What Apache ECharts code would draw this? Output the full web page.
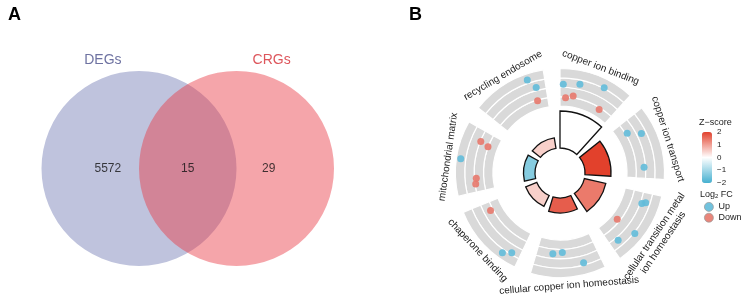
<!DOCTYPE html>
<html>
<head>
<meta charset="utf-8">
<script src="https://cdn.jsdelivr.net/npm/echarts@6/dist/echarts.min.js"></script>
<style>
html, body { margin: 0; padding: 0; background: #fff; }
#main { width: 747px; height: 300px; }
</style>
</head>
<body>
<div id="main"></div>
<script>
// panel A: Venn
const setNames = ["DEGs", "CRGs"];
const setTextColors = ["#4a4f8a", "#d42a32"];
const vennCounts = [5572, 15, 29];

// panel B: GO terms, clockwise from 12 o'clock
const terms = ["copper ion binding", "copper ion transport", "cellular transition metal\nion homeostasis",
  "cellular copper ion homeostasis", "chaperone binding", "mitochondrial matrix", "recycling endosome"];
const termScore = [37, 26, 22, 15, 12, 11.5, 10.5];
const termZ = [0, 2, 1.4, 1.7, 0.5, -1.3, 0.5];

// genes (term index, place inside term 0..1, log2 FC)
const upTerm = [0, 0, 0, 1, 1, 1, 2, 2, 2, 2, 3, 3, 3, 4, 4, 5, 6, 6];
const upPos  = [0.05, 0.30, 0.65, 0.19, 0.30, 0.82, 0.15, 0.18, 0.62, 0.86, 0.26, 0.57, 0.73, 0.13, 0.24, 0.50, 0.76, 0.85];
const upLfc  = [0.33, 0.55, 1.09, -0.82, 0.51, -0.16, 0.53, 0.17, 1.12, 0.33, 0.74, -0.65, -0.51, 0.79, 1.35, 1.55, 1.37, 0.31];
const downTerm = [0, 0, 0, 2, 4, 5, 5, 5, 5, 6];
const downPos  = [0.10, 0.23, 0.75, 0.62, 0.85, 0.13, 0.22, 0.78, 0.82, 0.81];
const downLfc  = [-1.09, -0.81, -1.18, -1.29, -0.72, -0.08, -0.20, -0.97, -0.05, -1.09];

const zTicks = [2, 1, 0, -1, -2];

const chart = echarts.init(document.getElementById("main"));
const font = "Liberation Sans, Arial, sans-serif";
const cx = 560, cy = 173;
const step = 360 / terms.length;
const fill = 0.82; // part of a term's sector that is drawn
const ringIn = 67, ringOut = 104.5;

function geneData(tIdx, pos, lfc) {
  return tIdx.map((t, i) => [lfc[i], t * step + pos[i] * step * fill]);
}

const hidden = {
  axisLine: { show: false }, axisTick: { show: false },
  axisLabel: { show: false }, splitLine: { show: false }
};

let option = {
  animation: false,
  textStyle: { fontFamily: font },
  grid: { left: 41.5, top: 22, width: 292.5, height: 278, outerBoundsMode: "none", containLabel: false },
  xAxis: { type: "value", min: -1.5, max: 1.5, show: false },
  yAxis: { type: "value", min: -1.349, max: 1.5026, show: false },
  polar: [
    { center: [cx, cy], radius: [25, 62] },
    { center: [cx, cy], radius: [ringIn, ringOut] },
    { center: [cx, cy], radius: [ringIn, ringOut] }
  ],
  angleAxis: [
    Object.assign({ polarIndex: 0, type: "category", data: terms, startAngle: 90 + step * (1 - fill) / 2, clockwise: true }, hidden),
    Object.assign({ polarIndex: 1, type: "category", data: terms, startAngle: 90 + step * (1 - fill) / 2, clockwise: true }, hidden),
    Object.assign({ polarIndex: 2, type: "value", min: 0, max: 360, startAngle: 90, clockwise: true }, hidden)
  ],
  radiusAxis: [
    Object.assign({ polarIndex: 0, type: "value", min: 0, max: 37 }, hidden),
    Object.assign({ polarIndex: 1, type: "value", min: 0, max: 4 }, hidden),
    Object.assign({ polarIndex: 2, type: "value", min: -2, max: 2 }, hidden)
  ],
  visualMap: {
    type: "continuous",
    seriesIndex: 0,
    dimension: 2,
    min: -2, max: 2,
    left: 702, top: 132,
    itemWidth: 10, itemHeight: 51,
    padding: 0,
    text: null,
    showLabel: false,
    calculable: false,
    hoverLink: false,
    inRange: { color: ["#45b0d0", "#ffffff", "#e2412c"] }
  },
  legend: {
    data: ["Up", "Down"],
    orient: "vertical",
    left: 704, top: 202,
    padding: 0,
    itemWidth: 9, itemHeight: 9, itemGap: 1,
    icon: "circle",
    itemStyle: { borderColor: "#999", borderWidth: 0.8 },
    textStyle: { fontSize: 9, color: "#222", fontFamily: font }
  },
  series: [
    {
      type: "bar",
      coordinateSystem: "polar",
      polarIndex: 0,
      barWidth: (fill * 100) + "%",
      data: terms.map((t, i) => [i, termScore[i], termZ[i]]),
      encode: { angle: 0, radius: 1 },
      itemStyle: { borderColor: "#111", borderWidth: 1.3 }
    },
    ...[0, 1, 2, 3].map(b => ({
      type: "bar",
      coordinateSystem: "polar",
      polarIndex: 1,
      stack: "band",
      barWidth: (fill * 100) + "%",
      data: terms.map(() => 1),
      itemStyle: { color: "#d9d9d9", borderColor: "#ffffff", borderWidth: 1.2 },
      silent: true
    })),
    {
      name: "Up",
      type: "scatter",
      coordinateSystem: "polar",
      polarIndex: 2,
      symbolSize: 7,
      data: geneData(upTerm, upPos, upLfc),
      itemStyle: { color: "#62bbd9", opacity: 0.9 }
    },
    {
      name: "Down",
      type: "scatter",
      coordinateSystem: "polar",
      polarIndex: 2,
      symbolSize: 7,
      data: geneData(downTerm, downPos, downLfc),
      itemStyle: { color: "#e7786b", opacity: 0.9 }
    },
    {
      type: "custom",
      coordinateSystem: "cartesian2d",
      data: [[-0.5, 0, 1, 0], [0.5, 0, 1, 1]],
      renderItem: function (params, api) {
        const c = api.coord([api.value(0), api.value(1)]);
        const r = api.size([api.value(2), 0])[0];
        return {
          type: "circle",
          shape: { cx: c[0], cy: c[1], r: r },
          style: { fill: api.value(3) === 0 ? "#bfc3dd" : "rgba(233,55,67,0.45)" }
        };
      },
      silent: true
    },
    {
      type: "scatter",
      data: [[-0.82, 0], [0, 0], [0.83, 0]].map((p, i) => ({ value: p, name: String(vennCounts[i]) })),
      symbolSize: 0,
      label: { show: true, position: "inside", formatter: "{b}", fontSize: 12, color: "#111", fontFamily: font },
      silent: true
    },
    {
      type: "scatter",
      data: [[-0.87, 1.11], [0.86, 1.11]].map((p, i) => ({
        value: p, name: setNames[i],
        label: { color: setTextColors[i] }
      })),
      symbolSize: 0,
      label: { show: true, position: "inside", formatter: "{b}", fontSize: 14, fontFamily: font },
      silent: true
    }
  ]
};

// term names round the ring
const graphics = [
  { type: "text", left: 8, top: 6, style: { text: "A", font: "bold 18px " + font, fill: "#000" } },
  { type: "text", left: 409, top: 6, style: { text: "B", font: "bold 18px " + font, fill: "#000" } },
  { type: "text", left: 699, top: 118, style: { text: "Z\u2212score", font: "9px " + font, fill: "#222" } },
  { type: "text", left: 700, top: 190, style: {
      text: "Log{s|2} FC", font: "9px " + font, fill: "#222",
      rich: { s: { fontSize: 6, verticalAlign: "bottom", padding: [4, 0, 0, 0], fill: "#222" } }
    } }
];
zTicks.forEach(v => {
  graphics.push({
    type: "text", x: 717, y: 132 + (2 - v) / 4 * 51,
    style: { text: v < 0 ? "\u2212" + Math.abs(v) : String(v), font: "8px " + font, fill: "#222",
      align: "left", verticalAlign: "middle", textAlign: "left", textVerticalAlign: "middle" }
  });
});
terms.forEach((t, k) => {
  const theta = k * step + step * fill / 2;
  const twoLine = t.indexOf("\n") >= 0;
  const R = twoLine ? 119 : 113;
  const rad = theta * Math.PI / 180;
  const x = cx + R * Math.sin(rad), y = cy - R * Math.cos(rad);
  const rot = (theta > 90 && theta < 270) ? 180 - theta : -theta;
  graphics.push({
    type: "text", x: x, y: y, rotation: rot * Math.PI / 180,
    style: { text: t, font: "10px " + font, fill: "#222", lineHeight: 11,
      align: "center", verticalAlign: "middle", textAlign: "center", textVerticalAlign: "middle" }
  });
});
option.graphic = graphics;

chart.setOption(option);
</script>
</body>
</html>
